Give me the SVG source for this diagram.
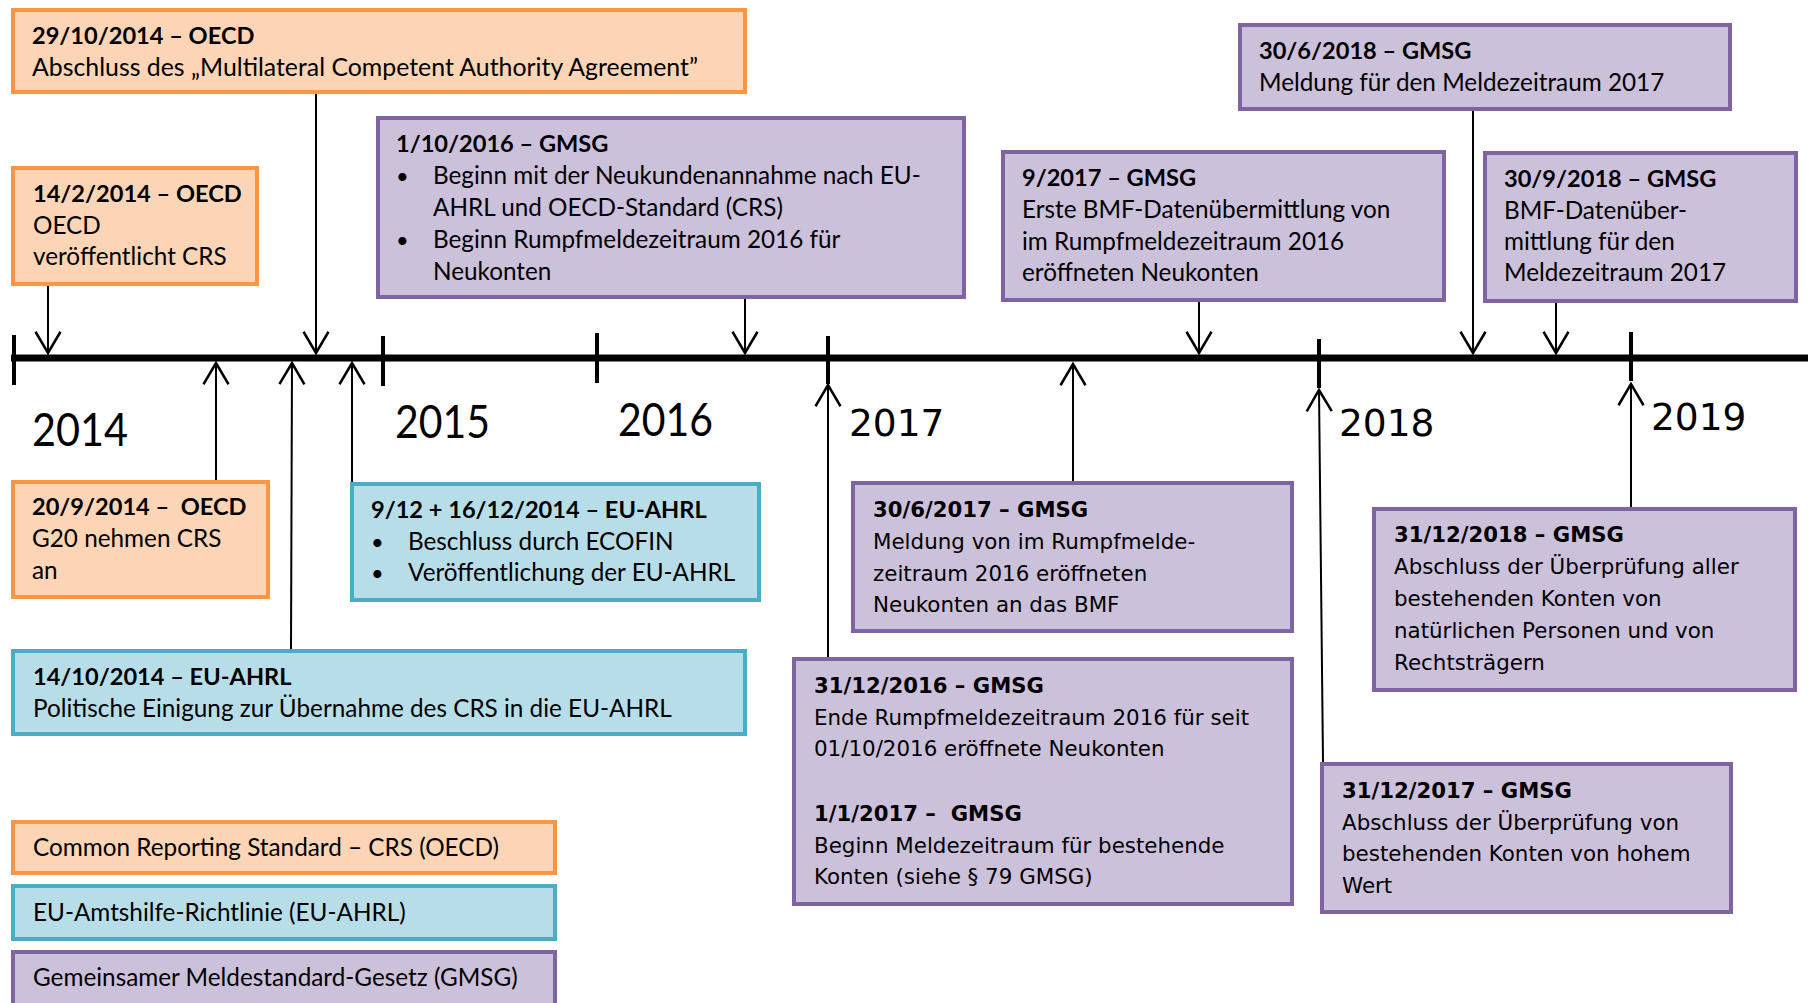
<svg xmlns="http://www.w3.org/2000/svg" width="1808" height="1003" viewBox="0 0 1808 1003">
<style>
.o{fill:#FBD5B5;stroke:#F79646;stroke-width:4}
.b{fill:#B7DEE8;stroke:#4BACC6;stroke-width:4}
.p{fill:#CCC1DA;stroke:#8064A2;stroke-width:4}
.c{font-family:Lato,"Liberation Sans",sans-serif;font-size:24.3px;fill:#000}
.cb{font-family:Lato,"Liberation Sans",sans-serif;font-size:23.6px;font-weight:bold;fill:#000}
.v{font-family:"DejaVu Sans",Verdana,sans-serif;font-size:21.4px;fill:#000}
.vb{font-family:"DejaVu Sans",Verdana,sans-serif;font-size:21.2px;font-weight:bold;fill:#000}
.yc{font-family:Lato,"Liberation Sans",sans-serif;font-size:46px;fill:#000}
.yv{font-family:"DejaVu Sans",Verdana,sans-serif;font-size:37.5px;fill:#000}
.ln{stroke:#000;stroke-width:2;fill:none}
.tk{stroke:#000;stroke-width:4}
.bu{font-family:Lato,"Liberation Sans",sans-serif;font-size:22px;fill:#000}
</style>
<defs>
<marker id="ah" markerUnits="userSpaceOnUse" markerWidth="30" markerHeight="30" viewBox="-20 -12 24 24" refX="0" refY="0" orient="auto" overflow="visible">
<path d="M-17,-10 L0,0 L-17,10" fill="none" stroke="#000" stroke-width="2"/>
</marker>
</defs>
<g id="timeline">
<line x1="11" y1="358" x2="1808" y2="358" stroke="#000" stroke-width="7"/>
<line class="tk" x1="14" y1="335" x2="14" y2="385"/>
<line class="tk" x1="383" y1="336" x2="383" y2="386"/>
<line class="tk" x1="597" y1="333" x2="597" y2="383"/>
<line class="tk" x1="828" y1="336" x2="828" y2="384"/>
<line class="tk" x1="1319" y1="339" x2="1319" y2="388"/>
<line class="tk" x1="1631" y1="332" x2="1631" y2="381"/>
<text class="yc" x="32" y="446" textLength="96" lengthAdjust="spacingAndGlyphs">2014</text>
<text class="yc" x="395" y="438" textLength="95" lengthAdjust="spacingAndGlyphs">2015</text>
<text class="yc" x="618" y="436" textLength="95" lengthAdjust="spacingAndGlyphs">2016</text>
<text class="yv" x="849" y="436">2017</text>
<text class="yv" x="1339" y="436">2018</text>
<text class="yv" x="1651" y="430">2019</text>
</g>
<g id="connectors">
<line class="ln" x1="48" y1="286" x2="48" y2="353" marker-end="url(#ah)"/>
<line class="ln" x1="316" y1="94" x2="316" y2="353" marker-end="url(#ah)"/>
<line class="ln" x1="745" y1="299" x2="745" y2="353" marker-end="url(#ah)"/>
<line class="ln" x1="1199" y1="302" x2="1199" y2="353" marker-end="url(#ah)"/>
<line class="ln" x1="1473" y1="111" x2="1473" y2="353" marker-end="url(#ah)"/>
<line class="ln" x1="1556" y1="303" x2="1556" y2="353" marker-end="url(#ah)"/>
<line class="ln" x1="216" y1="480" x2="216" y2="363" marker-end="url(#ah)"/>
<line class="ln" x1="291" y1="649" x2="292" y2="363" marker-end="url(#ah)"/>
<line class="ln" x1="352" y1="482" x2="352" y2="363" marker-end="url(#ah)"/>
<line class="ln" x1="828" y1="657" x2="828" y2="385" marker-end="url(#ah)"/>
<line class="ln" x1="1073" y1="481" x2="1073" y2="364" marker-end="url(#ah)"/>
<line class="ln" x1="1323" y1="762" x2="1319" y2="390" marker-end="url(#ah)"/>
<line class="ln" x1="1631" y1="507" x2="1631" y2="384" marker-end="url(#ah)"/>
</g>
<g id="n-29-10-2014">
<rect class="o" x="13" y="10" width="732" height="82"/>
<text class="cb" x="32" y="44">29/10/2014 – OECD</text>
<text class="c" x="32" y="76" textLength="666" lengthAdjust="spacingAndGlyphs">Abschluss des „Multilateral Competent Authority Agreement”</text>
</g>
<g id="n-14-2-2014">
<rect class="o" x="13" y="168" width="244" height="116"/>
<text class="cb" x="33" y="202">14/2/2014 – OECD</text>
<text class="c" x="33" y="234">OECD</text>
<text class="c" x="33" y="265">veröffentlicht CRS</text>
</g>
<g id="n-1-10-2016">
<rect class="p" x="378" y="118" width="586" height="179"/>
<text class="cb" x="396" y="152">1/10/2016 – GMSG</text>
<text class="bu" x="396" y="184">•</text>
<text class="c" x="433" y="184">Beginn mit der Neukundenannahme nach EU-</text>
<text class="c" x="433" y="216">AHRL und OECD-Standard (CRS)</text>
<text class="bu" x="396" y="248">•</text>
<text class="c" x="433" y="248">Beginn Rumpfmeldezeitraum 2016 für</text>
<text class="c" x="433" y="280">Neukonten</text>
</g>
<g id="n-9-2017">
<rect class="p" x="1003" y="152" width="441" height="148"/>
<text class="cb" x="1022" y="186">9/2017 – GMSG</text>
<text class="c" x="1022" y="218">Erste BMF-Datenübermittlung von</text>
<text class="c" x="1022" y="250">im Rumpfmeldezeitraum 2016</text>
<text class="c" x="1022" y="281">eröffneten Neukonten</text>
</g>
<g id="n-30-6-2018">
<rect class="p" x="1240" y="25" width="490" height="84"/>
<text class="cb" x="1259" y="59">30/6/2018 – GMSG</text>
<text class="c" x="1259" y="91">Meldung für den Meldezeitraum 2017</text>
</g>
<g id="n-30-9-2018">
<rect class="p" x="1485" y="153" width="311" height="148"/>
<text class="cb" x="1504" y="187">30/9/2018 – GMSG</text>
<text class="c" x="1504" y="219">BMF-Datenüber-</text>
<text class="c" x="1504" y="250">mittlung für den</text>
<text class="c" x="1504" y="281">Meldezeitraum 2017</text>
</g>
<g id="n-20-9-2014">
<rect class="o" x="13" y="482" width="255" height="115"/>
<text class="cb" x="32" y="515" xml:space="preserve">20/9/2014 –  OECD</text>
<text class="c" x="32" y="547">G20 nehmen CRS</text>
<text class="c" x="32" y="579">an</text>
</g>
<g id="n-9-12-2014">
<rect class="b" x="352" y="484" width="407" height="116"/>
<text class="cb" x="371" y="518">9/12 + 16/12/2014 – EU-AHRL</text>
<text class="bu" x="371" y="550">•</text>
<text class="c" x="408" y="550">Beschluss durch ECOFIN</text>
<text class="bu" x="371" y="581">•</text>
<text class="c" x="408" y="581">Veröffentlichung der EU-AHRL</text>
</g>
<g id="n-14-10-2014">
<rect class="b" x="13" y="651" width="732" height="83"/>
<text class="cb" x="33" y="685">14/10/2014 – EU-AHRL</text>
<text class="c" x="33" y="717">Politische Einigung zur Übernahme des CRS in die EU-AHRL</text>
</g>
<g id="n-30-6-2017">
<rect class="p" x="853" y="483" width="439" height="148"/>
<text class="vb" x="873" y="517">30/6/2017 – GMSG</text>
<text class="v" x="873" y="549">Meldung von im Rumpfmelde-</text>
<text class="v" x="873" y="581">zeitraum 2016 eröffneten</text>
<text class="v" x="873" y="612">Neukonten an das BMF</text>
</g>
<g id="n-31-12-2016">
<rect class="p" x="794" y="659" width="498" height="245"/>
<text class="vb" x="814" y="693">31/12/2016 – GMSG</text>
<text class="v" x="814" y="725">Ende Rumpfmeldezeitraum 2016 für seit</text>
<text class="v" x="814" y="756">01/10/2016 eröffnete Neukonten</text>
<text class="vb" x="814" y="821" xml:space="preserve">1/1/2017 –  GMSG</text>
<text class="v" x="814" y="853">Beginn Meldezeitraum für bestehende</text>
<text class="v" x="814" y="884">Konten (siehe § 79 GMSG)</text>
</g>
<g id="n-31-12-2018">
<rect class="p" x="1374" y="509" width="421" height="181"/>
<text class="vb" x="1394" y="542">31/12/2018 – GMSG</text>
<text class="v" x="1394" y="574">Abschluss der Überprüfung aller</text>
<text class="v" x="1394" y="606">bestehenden Konten von</text>
<text class="v" x="1394" y="638">natürlichen Personen und von</text>
<text class="v" x="1394" y="670">Rechtsträgern</text>
</g>
<g id="n-31-12-2017">
<rect class="p" x="1322" y="764" width="409" height="148"/>
<text class="vb" x="1342" y="798">31/12/2017 – GMSG</text>
<text class="v" x="1342" y="830">Abschluss der Überprüfung von</text>
<text class="v" x="1342" y="861">bestehenden Konten von hohem</text>
<text class="v" x="1342" y="893">Wert</text>
</g>
<g id="legend-crs">
<rect class="o" x="13" y="822" width="542" height="51"/>
<text class="c" x="33" y="856">Common Reporting Standard – CRS (OECD)</text>
</g>
<g id="legend-eu-ahrl">
<rect class="b" x="13" y="886" width="542" height="53"/>
<text class="c" x="33" y="921">EU-Amtshilfe-Richtlinie (EU-AHRL)</text>
</g>
<g id="legend-gmsg">
<rect class="p" x="13" y="952" width="542" height="60"/>
<text class="c" x="33" y="986">Gemeinsamer Meldestandard-Gesetz (GMSG)</text>
</g>
</svg>
